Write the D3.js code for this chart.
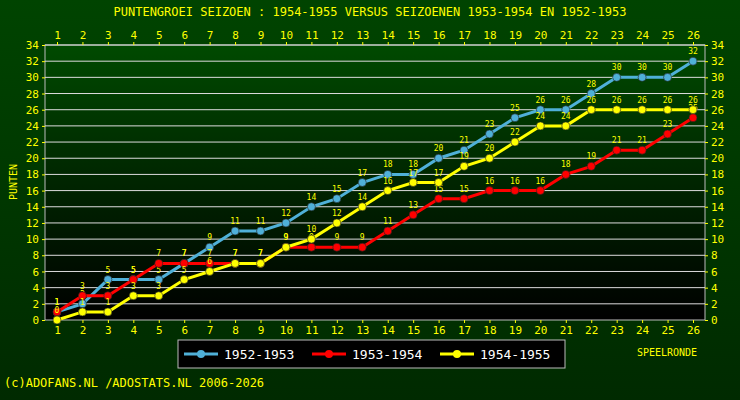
<!DOCTYPE html>
<html><head><meta charset="utf-8">
<script src="https://cdn.jsdelivr.net/npm/d3@7"></script>
<style>body{margin:0;background:#003000}</style>
</head><body><div id="chart"></div>
<script>
const rounds = d3.range(1, 27);
const s1952 = [1,2,5,5,5,7,9,11,11,12,14,15,17,18,18,20,21,23,25,26,26,28,30,30,30,32];
const s1953 = [1,3,3,5,7,7,7,7,7,9,9,9,9,11,13,15,15,16,16,16,18,19,21,21,23,25];
const s1954 = [0,1,1,3,3,5,6,7,7,9,10,12,14,16,17,17,19,20,22,24,24,26,26,26,26,26];
const yTicks = d3.range(0, 35, 2);

const series = [
  { name: "1952-1953", values: s1952, color: "#4fb0d8" },
  { name: "1953-1954", values: s1953, color: "#ff0000" },
  { name: "1954-1955", values: s1954, color: "#ffff00" }
];

const W = 740, H = 400;
const svg = d3.select("#chart").append("svg").attr("width", W).attr("height", H)
  .style("font-family", "DejaVu Sans Mono, monospace");

const defs = svg.append("defs");
const bg = defs.append("linearGradient").attr("id", "bg").attr("x1", 0).attr("y1", 0).attr("x2", 0).attr("y2", 1);
bg.append("stop").attr("offset", "0").attr("stop-color", "#004400");
bg.append("stop").attr("offset", "1").attr("stop-color", "#002a00");
const pg = defs.append("linearGradient").attr("id", "pg").attr("x1", 0).attr("y1", 0).attr("x2", 0).attr("y2", 1);
pg.append("stop").attr("offset", "0").attr("stop-color", "#004a00");
pg.append("stop").attr("offset", "1").attr("stop-color", "#000000");

svg.append("rect").attr("width", W).attr("height", H).attr("fill", "url(#bg)");

const x = d3.scaleLinear().domain([1, 26]).range([57, 693]);
const y = d3.scaleLinear().domain([0, 34]).range([320, 45]);

svg.append("rect").attr("x", 45).attr("y", 45).attr("width", 660).attr("height", 275)
  .attr("fill", "url(#pg)").attr("stroke", "#bbbbbb");

svg.append("g").selectAll("line").data(yTicks.slice(1)).join("line")
  .attr("x1", 45).attr("x2", 705).attr("y1", d => y(d)).attr("y2", d => y(d))
  .attr("stroke", "#dddddd").attr("stroke-width", 1);

function styleAxis(g) {
  g.select(".domain").remove();
  g.selectAll("line").attr("stroke", "#ffff00");
  g.selectAll("text").attr("fill", "#ffff00").style("font-size", "11px")
    .style("font-family", "DejaVu Sans Mono, monospace");
}
svg.append("g").attr("transform", "translate(45,0)")
  .call(d3.axisLeft(y).tickValues(yTicks).tickSize(3).tickPadding(3)).call(styleAxis);
svg.append("g").attr("transform", "translate(705,0)")
  .call(d3.axisRight(y).tickValues(yTicks).tickSize(3).tickPadding(3)).call(styleAxis);
svg.append("g").attr("transform", "translate(0,320)")
  .call(d3.axisBottom(x).tickValues(rounds).tickFormat(d3.format("d")).tickSize(3).tickPadding(3)).call(styleAxis);
svg.append("g").attr("transform", "translate(0,45)")
  .call(d3.axisTop(x).tickValues(rounds).tickFormat(d3.format("d")).tickSize(3).tickPadding(3)).call(styleAxis);

const line = d3.line().x((d, i) => x(rounds[i])).y(d => y(d));
series.forEach(s => {
  const g = svg.append("g");
  g.append("path").attr("d", line(s.values)).attr("fill", "none")
    .attr("stroke", s.color).attr("stroke-width", 3);
  g.selectAll("circle").data(s.values).join("circle")
    .attr("cx", (d, i) => x(rounds[i])).attr("cy", d => y(d)).attr("r", 4)
    .attr("fill", s.color).attr("stroke", "#222").attr("stroke-width", 0.6);
  g.selectAll("text").data(s.values).join("text")
    .attr("x", (d, i) => x(rounds[i])).attr("y", d => y(d) - 7)
    .attr("text-anchor", "middle").attr("fill", "#ffff00").style("font-size", "8px")
    .text(d => d);
});

svg.append("text").attr("x", 370).attr("y", 16).attr("text-anchor", "middle")
  .attr("fill", "#ffff00").style("font-size", "12px")
  .text("PUNTENGROEI  SEIZOEN : 1954-1955 VERSUS SEIZOENEN 1953-1954 EN 1952-1953");
svg.append("text").attr("transform", "translate(17,182) rotate(-90)").attr("text-anchor", "middle")
  .attr("fill", "#ffff00").style("font-size", "10px").text("PUNTEN");
svg.append("text").attr("x", 667).attr("y", 356).attr("text-anchor", "middle")
  .attr("fill", "#ffff00").style("font-size", "10px").text("SPEELRONDE");
svg.append("text").attr("x", 4).attr("y", 387)
  .attr("fill", "#ffff00").style("font-size", "12px").text("(c)ADOFANS.NL /ADOSTATS.NL 2006-2026");

const leg = svg.append("g");
leg.append("rect").attr("x", 178).attr("y", 340).attr("width", 387).attr("height", 28)
  .attr("fill", "#000").attr("stroke", "#bbbbbb");
series.forEach((s, i) => {
  const lx = 184 + i * 128;
  leg.append("line").attr("x1", lx).attr("x2", lx + 34).attr("y1", 354).attr("y2", 354)
    .attr("stroke", s.color).attr("stroke-width", 3);
  leg.append("circle").attr("cx", lx + 17).attr("cy", 354).attr("r", 4).attr("fill", s.color);
  leg.append("text").attr("x", lx + 40).attr("y", 359).attr("fill", "#ffffff")
    .style("font-size", "13px").text(s.name);
});
</script></body></html>
